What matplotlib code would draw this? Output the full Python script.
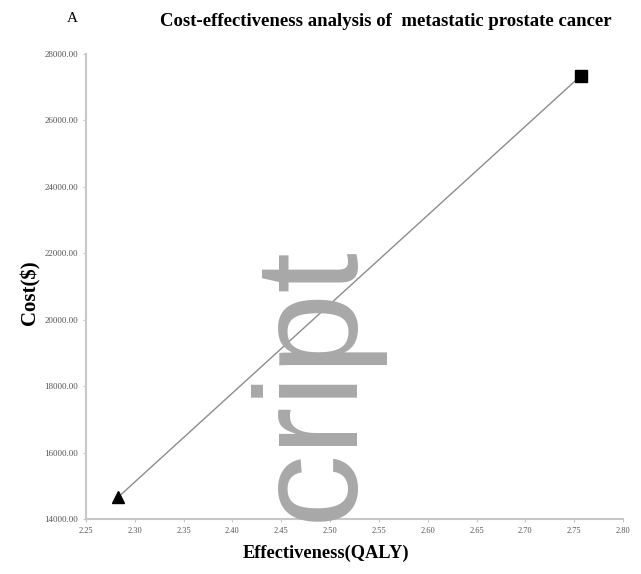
import matplotlib.pyplot as plt

# effectiveness (QALY) and cost ($) of the two strategies
effectiveness = [2.283, 2.757]
cost = [14660, 27350]
marker_shapes = ["^", "s"]

x_ticks = [2.25, 2.30, 2.35, 2.40, 2.45, 2.50, 2.55, 2.60, 2.65, 2.70, 2.75, 2.80]
y_ticks = [14000, 16000, 18000, 20000, 22000, 24000, 26000, 28000]

plt.rcParams["font.family"] = ["Liberation Serif", "DejaVu Serif"]

fig = plt.figure(figsize=(6.41, 5.74), dpi=100)
ax = fig.add_axes([86 / 641, 1 - 519 / 574, 537 / 641, 465 / 574])

ax.plot(effectiveness, cost, color="#8c8c8c", lw=1.0, zorder=3)
for x, y, m in zip(effectiveness, cost, marker_shapes):
    ax.plot(x, y, marker=m, color="black", markersize=8, zorder=4)

ax.set_xlim(2.25, 2.80)
ax.set_ylim(14000, 28000)
ax.set_xticks(x_ticks)
ax.set_xticklabels([f"{t:.2f}" for t in x_ticks])
ax.set_yticks(y_ticks)
ax.set_yticklabels([f"{t:.2f}" for t in y_ticks])
ax.tick_params(axis="y", labelsize=6.5, labelcolor="#555555", length=2, color="#c8c8c8")
ax.tick_params(axis="x", labelsize=6, labelcolor="#555555", length=2, color="#c8c8c8")

for side in ["top", "right"]:
    ax.spines[side].set_visible(False)
for side in ["left", "bottom"]:
    ax.spines[side].set_color("#c8c8c8")
    ax.spines[side].set_linewidth(1.5)

fig.text(326 / 641, 1 - 553 / 574, "Effectiveness(QALY)", fontsize=13.2,
         fontweight="bold", ha="center", va="center")
fig.text(30 / 641, 1 - 293 / 574, "Cost($)", fontsize=15, fontweight="bold",
         rotation=90, ha="center", va="center")

fig.text(160 / 641, 1 - 22 / 574, "Cost-effectiveness analysis of  metastatic prostate cancer",
         fontsize=13.5, fontweight="bold", va="center", ha="left")
fig.text(72 / 641, 1 - 19 / 574, "A", fontsize=11, va="center", ha="center")

# gray overlay lettering
fig.text(314 / 641, 1 - 383 / 574, "cript", rotation=90, fontsize=105,
         color="#a8a8a8", ha="center", va="center", zorder=2,
         family=["Liberation Sans Narrow", "Liberation Sans", "DejaVu Sans"])

fig.savefig("out.png", dpi=100)
